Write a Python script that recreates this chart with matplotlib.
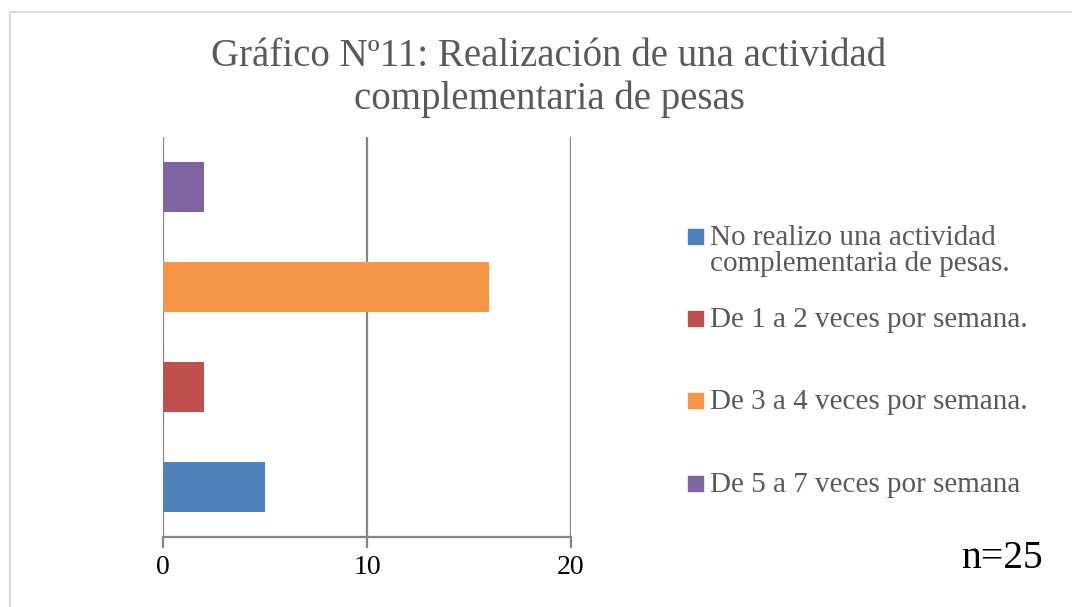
import matplotlib.pyplot as plt
from matplotlib.patches import Rectangle

categories = [
    "No realizo una actividad\ncomplementaria de pesas.",
    "De 1 a 2 veces por semana.",
    "De 3 a 4 veces por semana.",
    "De 5 a 7 veces por semana",
]
values = [5, 2, 16, 2]
colors = ["#4f81bd", "#c0504d", "#f79646", "#8064a2"]
x_ticks = [0, 10, 20]
title = "Gráfico Nº11: Realización de una actividad\ncomplementaria de pesas"
note = "n=25"

plt.rcParams["font.family"] = ["Liberation Serif", "DejaVu Serif"]

W, H = 1072, 607
fig = plt.figure(figsize=(W / 100, H / 100), dpi=100)
ax = fig.add_axes([163 / W, 1 - 537 / H, 408 / W, 400 / H])

for i, (v, c) in enumerate(zip(values, colors)):
    ax.barh(i, v, height=0.5, color=c, zorder=3)

ax.set_xlim(0, 20)
ax.set_ylim(-0.5, 3.5)
ax.set_xticks(x_ticks)
ax.set_yticks([])
ax.grid(axis="x", color="#868686", lw=1.6, zorder=0)
for s in ["top", "right", "left"]:
    ax.spines[s].set_visible(False)
ax.spines["bottom"].set_color("#868686")
ax.spines["bottom"].set_linewidth(1.6)
ax.tick_params(axis="x", length=8, width=1.6, color="#868686",
               labelsize=20, labelcolor="black", pad=5)

fig.text(549 / W, 1 - 78 / H, title, ha="center", va="center",
         fontsize=28, color="#595959", linespacing=1.2)

# legend drawn by hand so the uneven Excel-style spacing can be kept
text_y = [251, 320, 402, 485]
box_y = [236, 318, 400, 483]
for lab, c, ty, by in zip(categories, colors, text_y, box_y):
    fig.patches.append(Rectangle((688 / W, 1 - (by + 7.5) / H), 15 / W, 15 / H,
                                 transform=fig.transFigure, color=c))
    fig.text(710 / W, 1 - ty / H, lab, ha="left", va="center",
             fontsize=21, color="#595959", linespacing=1.02)

fig.text(1043 / W, 1 - 558 / H, note, ha="right", va="center",
         fontsize=28.5, color="black")

fig.patches.append(Rectangle((9.5 / W, -0.1), 1.2, 1.1 - 11.5 / H,
                             transform=fig.transFigure, fill=False,
                             edgecolor="#d9d9d9", lw=1.5))

fig.savefig("out.png", dpi=100, facecolor="white")
